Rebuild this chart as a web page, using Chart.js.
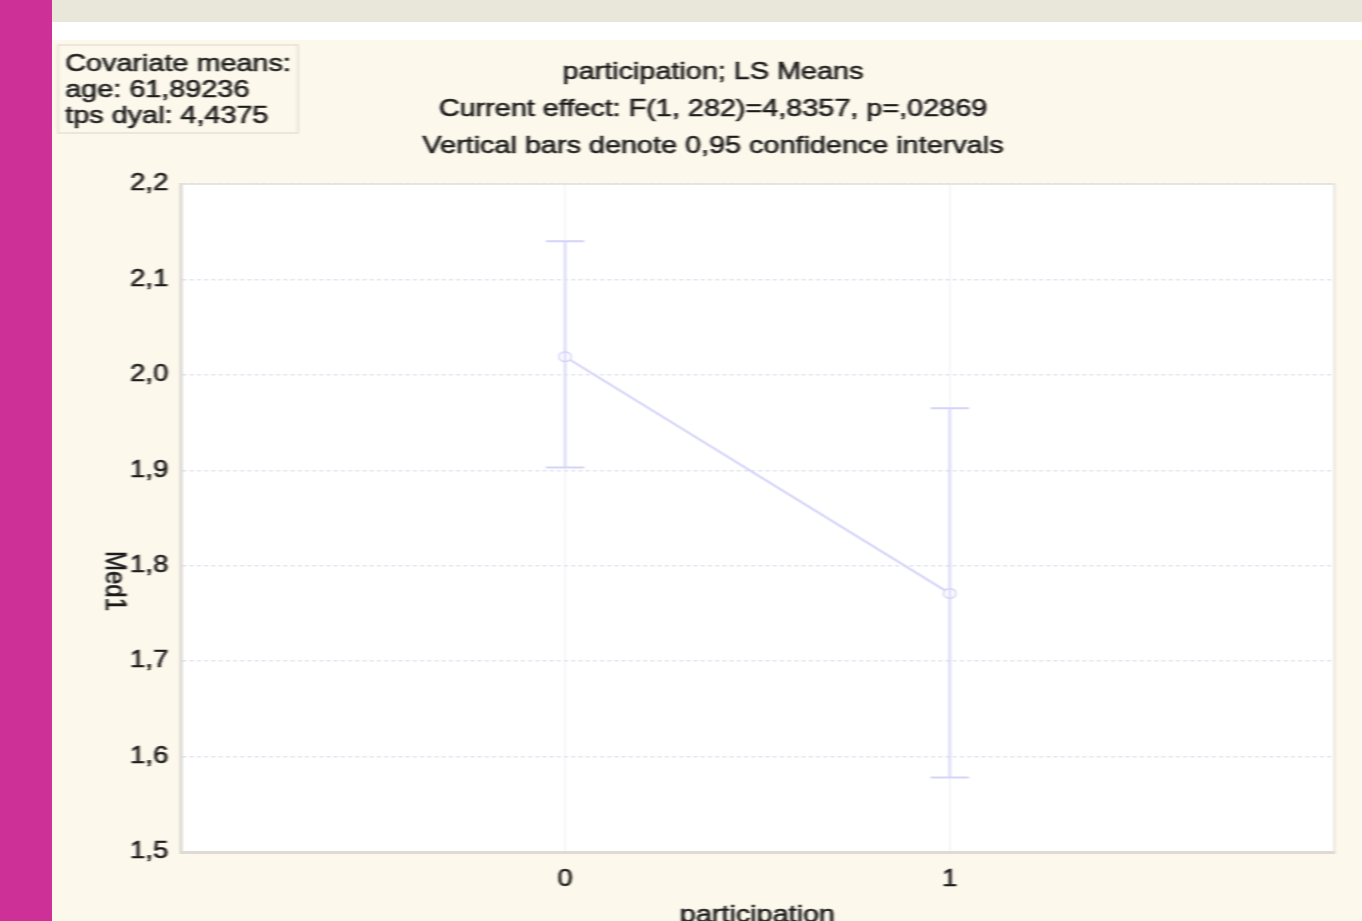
<!DOCTYPE html>
<html>
<head>
<meta charset="utf-8">
<title>participation; LS Means</title>
<script src="https://cdn.jsdelivr.net/npm/chart.js@4.4.1/dist/chart.umd.min.js"></script>
<style>
  html, body { margin: 0; padding: 0; width: 1362px; height: 921px; overflow: hidden; background: #fdf8ec; }
  #side { position: absolute; left: 0; top: 0; width: 52px; height: 921px; background: #cd3197; }
  #band { position: absolute; left: 52px; top: 0; width: 1310px; height: 22px; background: #e9e6da; }
  #gap { position: absolute; left: 52px; top: 22px; width: 1310px; height: 18px; background: #ffffff; }
  #wrap { position: absolute; left: 52px; top: 40px; width: 1092px; height: 881px;
          transform-origin: 0 0; transform: scaleX(1.1996); filter: blur(0.7px); }
  canvas { display: block; }
</style>
</head>
<body>
<div id="side"></div>
<div id="band"></div>
<div id="gap"></div>
<div id="wrap"><canvas id="c" width="1092" height="881"></canvas></div>
<script>
// participation groups on the x axis
const categories = [0, 1];
const xTickLabels = ['0', '1'];
// least-squares means of Med1 and their 0,95 confidence limits
const lsMeans = [2.019, 1.771];
const ciLower = [1.903, 1.578];
const ciUpper = [2.140, 1.965];
// value axis
const yTicks = [1.5, 1.6, 1.7, 1.8, 1.9, 2.0, 2.1, 2.2];
const yTickLabels = ['1,5', '1,6', '1,7', '1,8', '1,9', '2,0', '2,1', '2,2'];
// header texts
const titleLines = [
  'participation; LS Means',
  'Current effect: F(1, 282)=4,8357, p=,02869',
  'Vertical bars denote 0,95 confidence intervals'
];
const covariateLines = ['Covariate means:', 'age: 61,89236', 'tps dyal: 4,4375'];
const xTitle = 'participation';
const yTitle = 'Med1';

const FONT = '"Liberation Sans", Arial, sans-serif';
const TEXT = '#1c1c1c';
const SERIES = 'rgb(212,212,250)';

// draws text slightly heavier, like the bitmap font of the statistics package
function heavyText(ctx, s, x, y) {
  ctx.fillText(s, x, y);
  ctx.lineWidth = 0.6;
  ctx.strokeStyle = ctx.fillStyle;
  ctx.strokeText(s, x, y);
}

const plotFrame = {
  id: 'plotFrame',
  beforeDraw(chart) {
    const { ctx, chartArea: a } = chart;
    ctx.save();
    ctx.fillStyle = '#ffffff';
    ctx.fillRect(a.left, a.top, a.right - a.left, a.bottom - a.top);
    ctx.restore();
  },
  afterDraw(chart) {
    const { ctx, chartArea: a } = chart;
    ctx.save();
    ctx.strokeStyle = '#e2e0dc';
    ctx.lineWidth = 1.5;
    ctx.beginPath();
    ctx.moveTo(a.left, a.top);
    ctx.lineTo(a.right, a.top);
    ctx.lineTo(a.right, a.bottom);
    ctx.stroke();
    ctx.restore();
  }
};

const errorBars = {
  id: 'errorBars',
  afterDatasetsDraw(chart) {
    const { ctx } = chart;
    const xs = chart.scales.x, ys = chart.scales.y;
    ctx.save();
    ctx.strokeStyle = SERIES;
    ctx.lineWidth = 2;
    categories.forEach((c, i) => {
      const x = xs.getPixelForValue(c);
      const yl = ys.getPixelForValue(ciLower[i]);
      const yh = ys.getPixelForValue(ciUpper[i]);
      ctx.beginPath();
      ctx.moveTo(x, yl); ctx.lineTo(x, yh);
      ctx.moveTo(x - 16, yl); ctx.lineTo(x + 16, yl);
      ctx.moveTo(x - 16, yh); ctx.lineTo(x + 16, yh);
      ctx.stroke();
    });
    ctx.restore();
  }
};

const texts = {
  id: 'texts',
  afterDraw(chart) {
    const { ctx, chartArea: a } = chart;
    ctx.save();
    ctx.fillStyle = TEXT;
    // header
    ctx.font = '24px ' + FONT;
    ctx.textAlign = 'center';
    ctx.textBaseline = 'middle';
    [32, 69, 106].forEach((y, i) => heavyText(ctx, titleLines[i], 551, y));
    // covariate box
    ctx.strokeStyle = '#e6e1d2';
    ctx.lineWidth = 1.5;
    ctx.strokeRect(5, 5, 200, 88);
    ctx.fillStyle = TEXT;
    ctx.textAlign = 'left';
    ctx.font = '24px ' + FONT;
    [24, 50, 76].forEach((y, i) => heavyText(ctx, covariateLines[i], 11, y));
    // axis titles
    ctx.textAlign = 'center';
    ctx.font = '24px ' + FONT;
    heavyText(ctx, xTitle, (a.left + a.right) / 2, 875);
    ctx.translate(52, 541);
    ctx.rotate(Math.PI / 2);
    heavyText(ctx, yTitle, 0, 0);
    ctx.restore();
  }
};

new Chart(document.getElementById('c'), {
  type: 'line',
  data: {
    datasets: [{
      data: categories.map((c, i) => ({ x: c, y: lsMeans[i] })),
      borderColor: SERIES,
      borderWidth: 2,
      pointRadius: 5,
      pointBorderWidth: 1.5,
      pointBorderColor: SERIES,
      pointBackgroundColor: '#ffffff',
      tension: 0
    }]
  },
  options: {
    responsive: false,
    animation: false,
    devicePixelRatio: 1,
    layout: { padding: { left: 0, top: 144, right: 23, bottom: 0 } },
    plugins: { legend: { display: false }, tooltip: { enabled: false } },
    scales: {
      x: {
        type: 'linear',
        min: -1,
        max: 2,
        afterBuildTicks(s) { s.ticks = categories.map(v => ({ value: v })); },
        afterFit(s) { s.height = 69; },
        ticks: {
          callback: (v) => xTickLabels[categories.indexOf(v)],
          color: TEXT,
          textStrokeColor: TEXT,
          textStrokeWidth: 0.6,
          font: { family: FONT, size: 23 },
          padding: 14,
          maxRotation: 0
        },
        grid: { color: 'rgba(228,228,238,0.55)', drawTicks: false, lineWidth: 1 },
        border: { color: '#dedbd6', width: 3 }
      },
      y: {
        min: 1.5,
        max: 2.2,
        afterBuildTicks(s) { s.ticks = yTicks.map(v => ({ value: v })); },
        afterFit(s) { s.width = 107; },
        ticks: {
          callback: (v, i) => yTickLabels[i],
          color: TEXT,
          textStrokeColor: TEXT,
          textStrokeWidth: 0.6,
          font: { family: FONT, size: 23 },
          padding: 10
        },
        grid: { color: 'rgba(200,200,225,0.55)', drawTicks: false, lineWidth: 1.5 },
        border: { color: '#dedbd6', width: 3, dash: [3, 3] }
      }
    }
  },
  plugins: [plotFrame, errorBars, texts]
});
</script>
</body>
</html>
